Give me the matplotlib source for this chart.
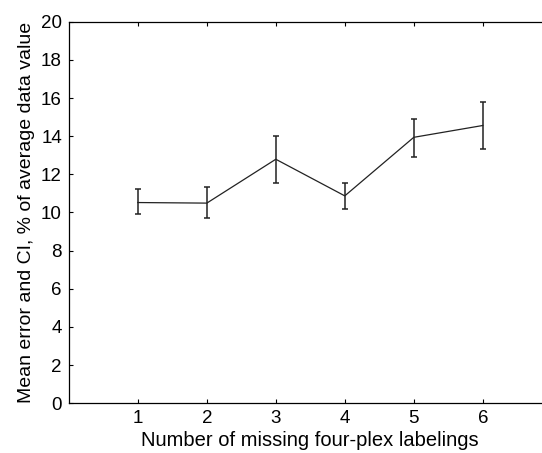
import matplotlib
matplotlib.use("Agg")
import matplotlib.pyplot as plt
import numpy as np

# data
n_missing = [1, 2, 3, 4, 5, 6]
mean_err = [10.52, 10.49, 12.79, 10.87, 13.94, 14.56]
ci_upper = [11.24, 11.34, 13.99, 11.55, 14.90, 15.80]
ci_lower = [9.91, 9.72, 11.55, 10.16, 12.93, 13.33]

mean_err = np.array(mean_err)
yerr = [mean_err - np.array(ci_lower), np.array(ci_upper) - mean_err]

plt.rcParams['font.family'] = ['Liberation Sans', 'DejaVu Sans']

fig = plt.figure(figsize=(5.42, 4.53), dpi=100)
# right spine falls just outside the picture, as in the reference
ax = fig.add_axes([0.127, 0.110, 0.891, 0.842])

ax.errorbar(n_missing, mean_err, yerr=yerr, color='#222222', linewidth=0.9,
            elinewidth=1.1, capsize=2.5, capthick=1.1)

ax.set_xlim([0, 7])
ax.set_ylim([0, 20])
ax.set_xticks(n_missing)
ax.set_yticks(np.arange(0, 21, 2))
ax.tick_params(direction='in', length=3, width=0.8, labelsize=13.5,
               top=True, right=False, pad=5)
for s in ax.spines.values():
    s.set_linewidth(0.9)

ax.set_xlabel('Number of missing four-plex labelings', fontsize=14.5, labelpad=3)
ax.set_ylabel('Mean error and CI, % of average data value', fontsize=14, labelpad=4)

plt.savefig("out.png", dpi=100)
